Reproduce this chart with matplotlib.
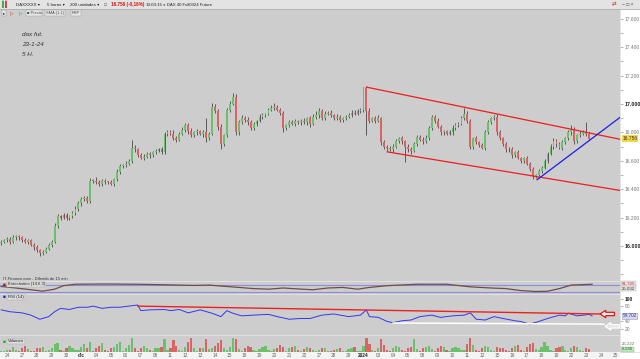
import numpy as np
import matplotlib.pyplot as plt
from matplotlib.patches import Rectangle, FancyArrow
import matplotlib.transforms as mtransforms

plt.rcParams['font.family'] = ['Liberation Sans', 'DejaVu Sans']

W, H = 640, 359

# ---- data (5 hour bars, DAX future) ----
first_open = 16020
closes = [16030,
          16040, 16050, 16030, 16060, 16070,
          16060, 16040, 16030, 16040, 16010,
          15990, 15970, 15950, 15960, 15980,
          16010, 16030, 16140, 16210, 16200,
          16220, 16200, 16210, 16230, 16260,
          16300, 16330, 16340, 16320, 16460,
          16460, 16450, 16440, 16460, 16450,
          16450, 16440, 16470, 16520, 16560,
          16570, 16580, 16600, 16690, 16680,
          16640, 16620, 16630, 16650, 16640,
          16660, 16670, 16680, 16660, 16790,
          16800, 16790, 16760, 16750, 16790,
          16820, 16850, 16810, 16780, 16800,
          16810, 16790, 16800, 16760, 16790,
          16980, 16950, 16840, 16720, 16780,
          16960, 17000, 17050, 16800, 16870,
          16900, 16890, 16870, 16830, 16860,
          16880, 16910, 16920, 16930, 16960,
          16970, 16980, 16960, 16940, 16830,
          16850, 16870, 16860, 16880, 16870,
          16880, 16870, 16900, 16860, 16910,
          16920, 16950, 16900, 16930, 16940,
          16920, 16900, 16910, 16890, 16900,
          16910, 16920, 16940, 16930, 16950,
          16960, 17110, 16950, 16880, 16900,
          16880, 16900, 16730, 16700, 16690,
          16680, 16700, 16740, 16760, 16740,
          16700, 16680, 16670, 16720, 16770,
          16750, 16740, 16760, 16830, 16910,
          16880, 16840, 16800, 16810, 16790,
          16800, 16830, 16850, 16860, 16900,
          16930, 16880, 16700, 16760, 16730,
          16710, 16690, 16800, 16870, 16900,
          16910, 16800, 16760, 16720, 16680,
          16680, 16640, 16660, 16620, 16600,
          16620, 16580, 16540, 16490, 16500,
          16530, 16550, 16600, 16650, 16700,
          16740, 16720, 16690, 16730, 16760,
          16800, 16820, 16740, 16780, 16790,
          16800, 16790, 16756]

wick_up = [10,
           10, 15, 10, 15, 10,
           10, 10, 15, 10, 10,
           10, 15, 10, 10, 15,
           10, 15, 20, 15, 10,
           10, 15, 10, 15, 20,
           20, 15, 10, 15, 20,
           15, 25, 15, 10, 15,
           10, 15, 10, 20, 15,
           10, 20, 15, 60, 20,
           10, 15, 20, 10, 15,
           10, 15, 10, 20, 15,
           15, 20, 25, 15, 10,
           20, 15, 15, 20, 10,
           15, 10, 15, 100, 15,
           25, 20, 15, 20, 10,
           10, 20, 30, 20, 15,
           20, 15, 20, 15, 10,
           10, 20, 15, 10, 15,
           20, 30, 15, 10, 10,
           10, 15, 20, 15, 10,
           15, 20, 10, 15, 20,
           30, 20, 15, 20, 10,
           15, 10, 20, 15, 10,
           10, 15, 20, 15, 15,
           15, 10, 15, 20, 10,
           15, 20, 10, 15, 10,
           15, 20, 15, 10, 15,
           10, 15, 20, 10, 15,
           10, 15, 20, 15, 10,
           15, 20, 15, 10, 10,
           15, 20, 15, 10, 15,
           40, 20, 15, 10, 15,
           10, 15, 20, 15, 10,
           10, 20, 15, 10, 15,
           15, 20, 10, 15, 10,
           10, 15, 10, 15, 10,
           15, 10, 15, 10, 15,
           20, 15, 10, 20, 10,
           15, 30, 15, 10, 20,
           15, 70, 15]

wick_dn = [10,
           10, 10, 15, 10, 15,
           15, 10, 10, 15, 10,
           15, 10, 20, 10, 10,
           10, 15, 10, 15, 20,
           10, 15, 15, 10, 10,
           10, 15, 10, 20, 15,
           15, 10, 20, 15, 10,
           15, 10, 15, 10, 15,
           10, 15, 10, 15, 20,
           15, 10, 15, 10, 20,
           10, 15, 10, 15, 10,
           15, 10, 15, 20, 10,
           10, 15, 20, 15, 10,
           15, 10, 20, 30, 10,
           10, 15, 20, 40, 15,
           10, 15, 10, 20, 15,
           10, 20, 15, 10, 15,
           15, 10, 15, 10, 10,
           10, 15, 10, 15, 30,
           10, 15, 10, 15, 10,
           15, 10, 15, 20, 10,
           15, 20, 10, 15, 10,
           10, 15, 10, 20, 15,
           15, 10, 15, 10, 10,
           10, 15, 170, 15, 10,
           15, 10, 20, 15, 20,
           10, 15, 10, 15, 20,
           110, 15, 20, 10, 15,
           10, 20, 15, 10, 10,
           15, 10, 20, 15, 10,
           10, 15, 10, 15, 10,
           10, 15, 20, 15, 10,
           15, 10, 15, 10, 10,
           10, 15, 10, 15, 20,
           15, 20, 15, 10, 15,
           15, 10, 15, 16, 10,
           10, 15, 10, 15, 10,
           15, 20, 10, 15, 10,
           10, 15, 20, 15, 10,
           10, 15, 10]

volume = [3,
          3, 5, 4, 12, 4,
          3, 8, 13, 6, 2,
          3, 10, 8, 12, 3,
          4, 8, 18, 20, 5,
          3, 8, 14, 10, 4,
          4, 12, 18, 10, 22,
          3, 8, 14, 20, 4,
          3, 10, 12, 18, 22,
          3, 10, 15, 32, 8,
          3, 8, 14, 10, 4,
          3, 8, 10, 12, 28,
          4, 10, 26, 14, 5,
          3, 12, 22, 32, 10,
          3, 8, 10, 28, 6,
          8, 14, 20, 26, 10,
          4, 12, 32, 28, 6,
          3, 10, 14, 12, 4,
          3, 6, 12, 14, 4,
          3, 6, 10, 16, 12,
          3, 8, 12, 14, 4,
          3, 6, 12, 10, 4,
          2, 4, 8, 10, 3,
          2, 4, 6, 8, 3,
          2, 6, 10, 12, 3,
          3, 14, 32, 18, 4,
          3, 10, 28, 16, 4,
          3, 8, 14, 12, 4,
          3, 10, 12, 28, 6,
          3, 8, 12, 14, 6,
          3, 10, 14, 12, 4,
          3, 8, 12, 10, 5,
          4, 18, 32, 16, 5,
          3, 10, 14, 12, 4,
          3, 12, 10, 8, 4,
          3, 10, 14, 16, 5,
          3, 12, 18, 20, 6,
          4, 12, 22, 14, 5,
          3, 10, 12, 14, 4,
          3, 8, 14, 12, 4,
          3, 10, 6]

rsi_bar = [0, 3, 7, 10, 13, 16, 18, 20, 23, 26, 29, 31, 34, 37, 40, 43, 46, 47, 50, 55,
           57, 60, 63, 67, 71, 74, 76, 78, 81, 85, 90, 93, 97, 101, 104, 108, 112, 117, 121, 123,
           124, 127, 130, 132, 135, 138, 141, 145, 148, 152, 156, 158, 160, 163, 166, 169, 173, 175, 178, 181,
           184, 188, 190, 191, 194, 198, 199]
rsi_val = [71, 66, 63, 57, 46, 53, 66, 75, 72, 78, 78, 81, 75, 78, 78, 81, 84, 69, 71, 72,
           69, 72, 63, 71, 62, 53, 69, 62, 55, 57, 59, 53, 46, 48, 48, 57, 60, 53, 57, 71,
           53, 51, 40, 37, 42, 44, 53, 57, 51, 55, 57, 63, 46, 44, 53, 48, 42, 40, 33, 40,
           48, 57, 55, 62, 55, 59, 55]

stoch_bar = [0, 5, 10, 14, 18, 21, 25, 35, 45, 55, 65, 70, 75, 80, 85, 90, 95, 100, 105, 110,
             115, 120, 124, 130, 140, 150, 158, 165, 170, 175, 180, 184, 188, 192, 199]
stoch_val = [63, 50, 35, 23, 40, 70, 82, 84, 82, 78, 72, 75, 65, 55, 45, 40, 50, 42, 35, 50,
             55, 40, 55, 70, 82, 82, 60, 50, 45, 28, 20, 22, 45, 75, 82]

day_labels = ['24', '27', '28', '29', '30', 'dic', '04', '05', '06', '07', '08', '11', '12',
              '13', '14', '15', '18', '19', '20', '21', '22', '27', '28', '29', '2024', '03',
              '04', '05', '08', '09', '10', '11', '12', '15', '16', '17', '18', '19', '22',
              '23', '24', '25']

# trend lines (bar, value)
upper_line = ([123, 208.8], [17119, 16750])
lower_line = ([130, 208.8], [16663, 16390])
blue_line = ([180.5, 208.8], [16467, 16912])
rsi_red = ([46, 202], [81, 60])
rsi_white = ([132, 203], [36, 33])

# ---- figure ----
fig = plt.figure(figsize=(6.4, 3.59), dpi=100)
fig.patch.set_facecolor('white')


def pax(x0, y0, x1, y1):
    return fig.add_axes([x0 / W, 1 - y1 / H, (x1 - x0) / W, (y1 - y0) / H])


def fy(y):
    return 1 - y / H


XL = (-0.4, 208.4)
BG = '#cdcdcd'

n = len(closes)
xs = np.arange(n)
opens = np.array([first_open] + closes[:-1])
cl = np.array(closes)
hi = np.maximum(opens, cl) + np.array(wick_up)
lo = np.minimum(opens, cl) - np.array(wick_dn)
up = cl > opens
cols = np.where(up, '#6cc06c', np.where(cl < opens, '#d96464', '#888888'))

# main price panel
ax = pax(0, 9, 620, 281)
ax.set_facecolor(BG)
ax.set_xlim(*XL)
ax.set_ylim(17000 - (281 - 104) * 7.042, 17000 + (104 - 9) * 7.042)
ax.vlines(xs, lo, hi, color='#3c3c3c', lw=0.55, zorder=2)
body = np.maximum(np.abs(cl - opens), 5)
ax.bar(xs, body, bottom=np.minimum(opens, cl), width=0.62, color=cols, linewidth=0, zorder=3)
ax.plot(*upper_line, color='#ee1c1c', lw=0.9, zorder=4)
ax.plot(*lower_line, color='#ee1c1c', lw=0.9, zorder=4)
ax.plot(*blue_line, color='#1c1cee', lw=0.9, zorder=4)
for s in ax.spines.values():
    s.set_visible(False)
ax.set_xticks([])
ax.yaxis.tick_right()
ticks = list(range(16000, 17601, 200))
ax.set_yticks(ticks)
ax.set_yticklabels([f"{t:,}".replace(',', '.') for t in ticks])
ax.set_yticks(list(range(15800, 17700, 100)), minor=True)
ax.tick_params(axis='y', which='both', direction='out', length=2, width=0.5,
               color='#999999', pad=1.2, labelsize=3.5, labelcolor='#777777')
for lab, t in zip(ax.get_yticklabels(), ticks):
    if t in (16000, 17000):
        lab.set_fontweight('bold')
        lab.set_color('#222222')
        lab.set_fontsize(3.8)
tr = mtransforms.blended_transform_factory(ax.transAxes, ax.transData)
ax.text(1.004, 16756, '16.756', transform=tr, fontsize=3.5, color='#333333', va='center',
        ha='left', bbox=dict(boxstyle='square,pad=0.15', fc='#f5d742', ec='none'), zorder=6,
        clip_on=False)

for i, t in enumerate(['dax fut.', '23-1-24', '5 H.']):
    fig.text(22 / W, fy(34 + 10 * i), t, fontsize=4.6, style='italic', color='#333333',
             va='center', ha='left')
fig.text(3 / W, fy(279), 'IT-Finance.com - Diferido de 15 min', fontsize=3, color='#333333',
         va='center')

# stochastic panel
axs = pax(0, 281, 620, 294)
axs.set_facecolor(BG)
axs.set_xlim(*XL)
axs.set_ylim(-1.4, 110)
axs.axhline(80, color='#8c8cd8', lw=0.8)
axs.axhline(20, color='#8c8cd8', lw=0.8)
axs.plot(stoch_bar, stoch_val, color='#6e4c4c', lw=0.9)
axs.set_xticks([])
axs.set_yticks([])
for s in axs.spines.values():
    s.set_visible(False)

# RSI panel
axr = pax(0, 294, 620, 335)
axr.set_facecolor(BG)
axr.set_xlim(*XL)
axr.set_ylim(4, 113.3)
axr.plot(rsi_bar, rsi_val, color='#3535f0', lw=0.7)
axr.plot(*rsi_red, color='#ee2020', lw=1.0)
axr.plot(*rsi_white, color='white', lw=1.1)
axr.add_patch(FancyArrow(206.5, 60, -4.8, 0, width=9, head_width=20, head_length=1.9,
                         length_includes_head=True, fc='#f4f4f4', ec='#ee1010', lw=0.9,
                         clip_on=False, zorder=5))
axr.add_patch(FancyArrow(208.2, 27, -4.8, 0, width=9, head_width=20, head_length=1.9,
                         length_includes_head=True, fc='#e6e6e6', ec='white', lw=0.9,
                         clip_on=False, zorder=5))
axr.set_xticks([])
axr.yaxis.tick_right()
axr.set_yticks([20, 40, 80, 100])
axr.set_yticklabels(['20', '40', '80', '100'])
axr.tick_params(axis='y', direction='out', length=2, width=0.5, color='#999999', pad=1.5,
                labelsize=3.5, labelcolor='#777777')
axr.get_yticklabels()[-1].set_fontweight('bold')
axr.get_yticklabels()[-1].set_color('#222222')
for s in axr.spines.values():
    s.set_visible(False)
trr = mtransforms.blended_transform_factory(axr.transAxes, axr.transData)
axr.text(1.004, 55, '54.702', transform=trr, fontsize=3.3, color='#3333aa', va='center',
         ha='left', bbox=dict(boxstyle='square,pad=0.15', fc='#d8d8e8', ec='#9999bb', lw=0.4),
         clip_on=False)

# volume panel
axv = pax(0, 335, 620, 352)
axv.set_facecolor(BG)
axv.set_xlim(*XL)
axv.set_ylim(0, 38)
axv.bar(xs, volume, width=0.75, color=cols, linewidth=0)
axv.set_xticks([])
axv.set_yticks([])
for s in axv.spines.values():
    s.set_visible(False)

# date strip
axd = pax(0, 352, 620, 359)
axd.set_facecolor('#f4f4f4')
axd.set_xlim(*XL)
axd.set_ylim(0, 1)
axd.set_xticks([])
axd.set_yticks([])
for s in axd.spines.values():
    s.set_visible(False)
for d, lab in enumerate(day_labels):
    bold = lab in ('dic', '2024')
    axd.text(2 + 5 * d, 0.45, lab, fontsize=3.4, ha='center', va='center',
             color='#222222' if bold else '#666666', fontweight='bold' if bold else 'normal')

# panel separators
for yy in (281, 294, 335):
    fig.add_artist(plt.Line2D([0, 620 / W], [fy(yy), fy(yy)], color='#e4e4e4', lw=0.6))


# panel labels
def panel_label(y, sq, text):
    fig.text(3 / W, fy(y), '\u25a0', fontsize=3.4, color=sq, va='center', ha='left')
    fig.text(8 / W, fy(y), text, fontsize=3.1, color='#222222', va='center', ha='left',
             bbox=dict(boxstyle='square,pad=0.2', fc='#dcdcdc', ec='#aaaaaa', lw=0.3))


panel_label(284.5, '#8a2020', 'Estoc\u00e1stico (14,6,3)')
panel_label(297, '#2020ee', 'RSI (14)')
panel_label(341.5, '#30a030', 'Volumen')

# right side labels for sub panels
fig.text(622 / W, fy(284), '81.765', fontsize=3.2, color='#cc3333', va='center',
         bbox=dict(boxstyle='square,pad=0.12', fc='#e4e4e4', ec='#aaaaaa', lw=0.3))
fig.text(622 / W, fy(288.5), '25.032', fontsize=3.2, color='#333333', va='center',
         bbox=dict(boxstyle='square,pad=0.12', fc='#e4e4e4', ec='#aaaaaa', lw=0.3))
fig.text(622 / W, fy(344), '25.222', fontsize=3.2, color='#666666', va='center')
fig.text(622 / W, fy(349.5), '6.196', fontsize=3.2, color='#226622', va='center',
         bbox=dict(boxstyle='square,pad=0.12', fc='#bfe6bf', ec='#88bb88', lw=0.3))

# toolbar
fig.add_artist(Rectangle((0, fy(9)), 1, 9 / H, transform=fig.transFigure,
                         fc='#e3e3e3', ec='none'))
fig.add_artist(plt.Line2D([0, 1], [fy(9), fy(9)], color='#a8a8a8', lw=0.5))
fig.add_artist(Rectangle((620 / W, fy(352)), 20 / W, 343 / H, transform=fig.transFigure,
                         fc='none', ec='#d0d0d0', lw=0.4))
ty = fy(4.5)
fig.text(2 / W, ty, '\u258c', fontsize=4, color='#44aa44', va='center')
fig.text(5 / W, ty, '\u258c', fontsize=4, color='#cc4444', va='center')
fig.text(16 / W, ty, 'DAXXXXX \u25be', fontsize=3.2, color='#222222', va='center')
fig.text(47 / W, ty, '5 horas \u25be', fontsize=3.2, color='#222222', va='center')
fig.text(70 / W, ty, '200 unidades \u25be', fontsize=3.2, color='#222222', va='center')
fig.text(104 / W, ty, '\u25a1', fontsize=3.6, color='#666666', va='center')
fig.text(111 / W, ty, '16.756 (-0,16%)', fontsize=3.3, color='#dd1111', fontweight='bold',
         va='center')
fig.text(146 / W, ty, '13:03:15', fontsize=3.2, color='#222222', va='center')
fig.text(163 / W, ty, '\u25cb DAX 40 Full0324 Future', fontsize=3.1, color='#222222',
         va='center')
fig.text(622 / W, ty, '\u2212 \u25a1 \u00d7', fontsize=3.6, color='#555555', va='center')
fig.text(612 / W, ty, '\u21c4', fontsize=4, color='#cc3333', va='center')

by = fy(13)
btn = dict(boxstyle='square,pad=0.15', fc='#e6e6e6', ec='#999999', lw=0.3)
fig.text(3 / W, by, '\u25b8', fontsize=3, color='#222222', va='center', bbox=btn)
fig.text(10 / W, by, '\u25b7', fontsize=3.4, color='#dd2222', va='center')
fig.text(19 / W, by, '\u25b7', fontsize=3.4, color='#22aa22', va='center')
fig.text(27 / W, by, '\u25a0 Precio', fontsize=2.9, color='#444444', va='center', bbox=btn)
fig.text(46 / W, by, 'SMA (1,1)', fontsize=2.9, color='#444444', va='center', bbox=btn)
fig.text(72 / W, by, 'RSP', fontsize=2.9, color='#444444', va='center', bbox=btn)

fig.savefig('out.png', dpi=100, facecolor=fig.get_facecolor())
